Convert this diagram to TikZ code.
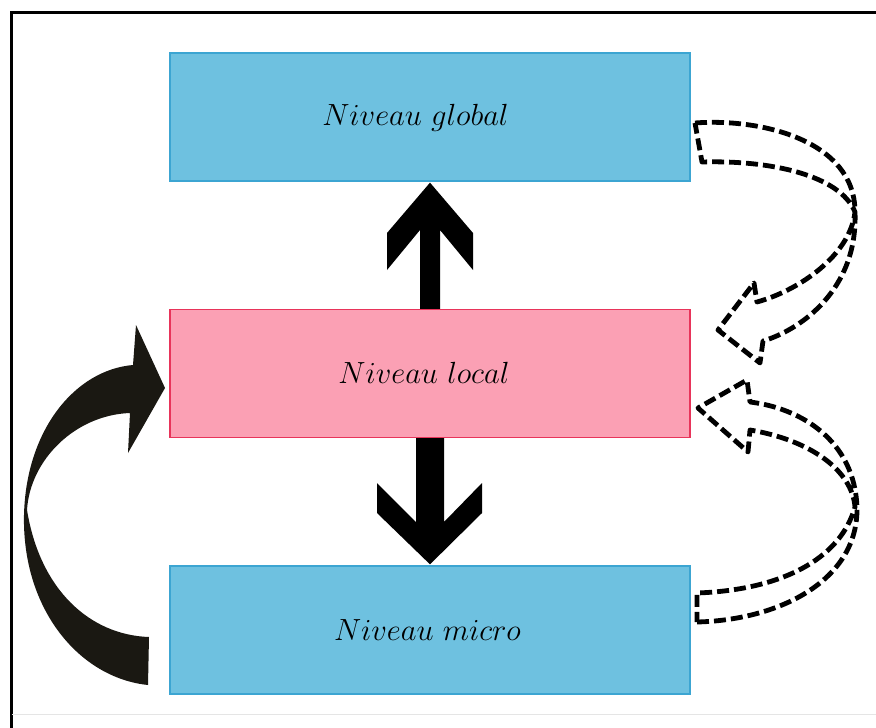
\documentclass[tikz,border=0pt]{standalone}
\usepackage{graphicx}
\usetikzlibrary{calc}
\definecolor{boxblue}{RGB}{110,193,224}
\definecolor{boxblueline}{RGB}{60,165,210}
\definecolor{boxpink}{RGB}{251,160,180}
\definecolor{boxpinkline}{RGB}{232,52,90}
\definecolor{arrowblack}{RGB}{26,24,18}
\newcommand{\lvltext}[1]{\scalebox{1.23}{\fontsize{24.88}{30}\selectfont$#1$}}
\tikzset{
  level/.style={draw, line width=1.3pt, minimum width=520pt, minimum height=128pt, inner sep=0pt},
  bluebox/.style={level, fill=boxblue, draw=boxblueline},
  pinkbox/.style={level, fill=boxpink, draw=boxpinkline},
  lvllabel/.style={anchor=base, inner sep=0pt},
  dashedarrow/.style={draw=black, line width=4.8pt, dash pattern=on 12pt off 5pt, line join=round, fill=white},
}
\begin{document}
\begin{tikzpicture}[x=1pt,y=-1pt]
\useasboundingbox (0,0) rectangle (876,728);
\fill[white] (0,0) rectangle (876,728);
% frame
\draw[line width=3pt] (11,728) -- (11,12) -- (876,12);
\draw[line width=1pt, black!10] (12,714) -- (876,714);
% boxes
\node[bluebox] (glob) at (430,117) {};
\node[pinkbox] (loc) at (430,373.5) {};
\node[bluebox] (mic) at (430,630) {};
\node[lvllabel] (globt) at (415.5,125) {\lvltext{Niveau\ global}};
\node[lvllabel] (loct) at (424,383) {\lvltext{Niveau\ local}};
\node[lvllabel] (mict) at (427.5,640) {\lvltext{Niveau\ micro}};
% up arrow from local to global
\fill[black] ($(loc.north)+(-10,0)$) -- (420,230) -- (387,270) -- (387,233) -- ($(glob.south)+(0,1)$)
  -- (473,233) -- (473,270) -- (440,230) -- ($(loc.north)+(10,0)$) -- cycle;
% down arrow from local to micro
\fill[black] ($(loc.south)+(-14,0)$) -- (416,522) -- (377,483) -- (377,513) -- ($(mic.north)+(0,-1)$)
  -- (482,513) -- (482,483) -- (444,522) -- ($(loc.south)+(14,0)$) -- cycle;
% left curved arrow micro -> local
\fill[arrowblack] (148,685) .. controls (80,678) and (22,610) .. (24,515)
  .. controls (26,430) and (75,370) .. (133,365)
  -- (136,325) -- (165,388) -- (128,453) -- (130,413)
  .. controls (75,415) and (30,460) .. (27,510)
  .. controls (40,590) and (90,635) .. (149,637) -- cycle;
% upper dashed arrow global -> local
\draw[dashedarrow] (695,123) .. controls (760,118) and (855,140) .. (855,212)
  .. controls (858,290) and (800,330) .. (763,341)
  -- (760,363) -- (718,330) -- (754,283) -- (757,302)
  .. controls (800,290) and (850,255) .. (855,212)
  .. controls (840,175) and (770,160) .. (702,162) -- cycle;
% lower dashed arrow micro -> local
\draw[dashedarrow] (697,622) .. controls (780,620) and (858,580) .. (857,508)
  .. controls (855,440) and (800,408) .. (750,402)
  -- (747,380) -- (698,408) -- (748,452) -- (750,430)
  .. controls (810,440) and (852,470) .. (855,507)
  .. controls (840,560) and (780,590) .. (697,593) -- cycle;
\end{tikzpicture}
\end{document}
